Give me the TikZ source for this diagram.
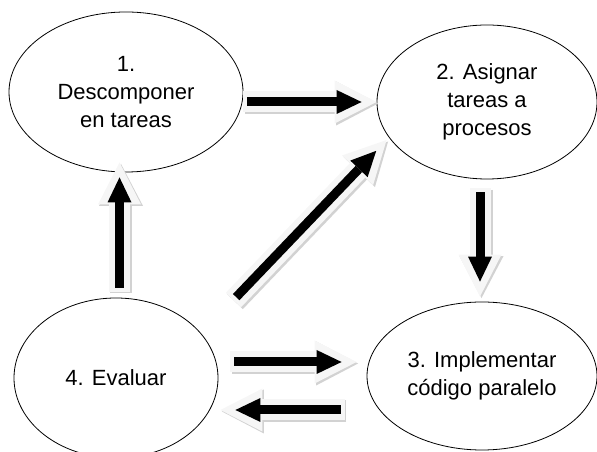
\documentclass[tikz,border=0pt]{standalone}
\usepackage{fontspec}
\setmainfont{Liberation Sans}
\usetikzlibrary{shapes.geometric,arrows.meta}

% block arrow: shadow, light body, black core
\newcommand{\flecha}[2]{%
  \draw[sombra] #1 -- #2;
  \draw[fondo]  #1 -- #2;
  \draw[negra]  #1 -- #2;
}

\begin{document}
\begin{tikzpicture}
[x=1pt, y=1pt, font=\fontsize{22}{28}\selectfont]
\tikzstyle{paso}=[ellipse, draw, line width=0.8pt, inner sep=0pt, align=center]
\tikzstyle{sombra}=[line width=22pt, draw=gray!35, transform canvas={xshift=1.5pt, yshift=-1.5pt},
  -{Triangle[width=44pt, length=42pt, line width=0pt]}]
\tikzstyle{fondo}=[line width=21pt, draw=gray!7,
  -{Triangle[width=43pt, length=42pt, line width=0pt]}]
\tikzstyle{negra}=[line width=9pt, draw=black, shorten >=15pt, shorten <=4pt,
  -{Triangle[width=24pt, length=25pt, line width=0pt]}]

\useasboundingbox (0,0) rectangle (597,452);

\node[paso, minimum width=234pt, minimum height=160pt] (P1) at (126,360) {1.\\Descomponer\\en tareas};
\node[paso, minimum width=220pt, minimum height=154pt] (P2) at (487,350) {2. Asignar\\tareas a\\procesos};
\node[paso, minimum width=230pt, minimum height=148pt] (P3) at (482,76)  {3. Implementar\\código paralelo};
\node[paso, minimum width=204pt, minimum height=160pt] (P4) at (116,74)  {4. Evaluar};

\flecha{(P1.east |- P2.west)}{(P2.west)}
\flecha{([shift={(-7,-9)}]P2.south)}{([shift={(-2,5)}]P3.north)}
\flecha{([shift={(3.5,6)}]P4.north)}{([shift={(-6.5,10)}]P1.south)}
\flecha{([shift={(15,78)}]P4.east)}{([shift={(10,-38)}]P2.west)}
\flecha{([shift={(12,16)}]P4.east)}{([shift={(-10,14)}]P3.west)}
\flecha{([shift={(-22,-34)}]P3.west)}{([shift={(2,-32)}]P4.east)}
\end{tikzpicture}
\end{document}
